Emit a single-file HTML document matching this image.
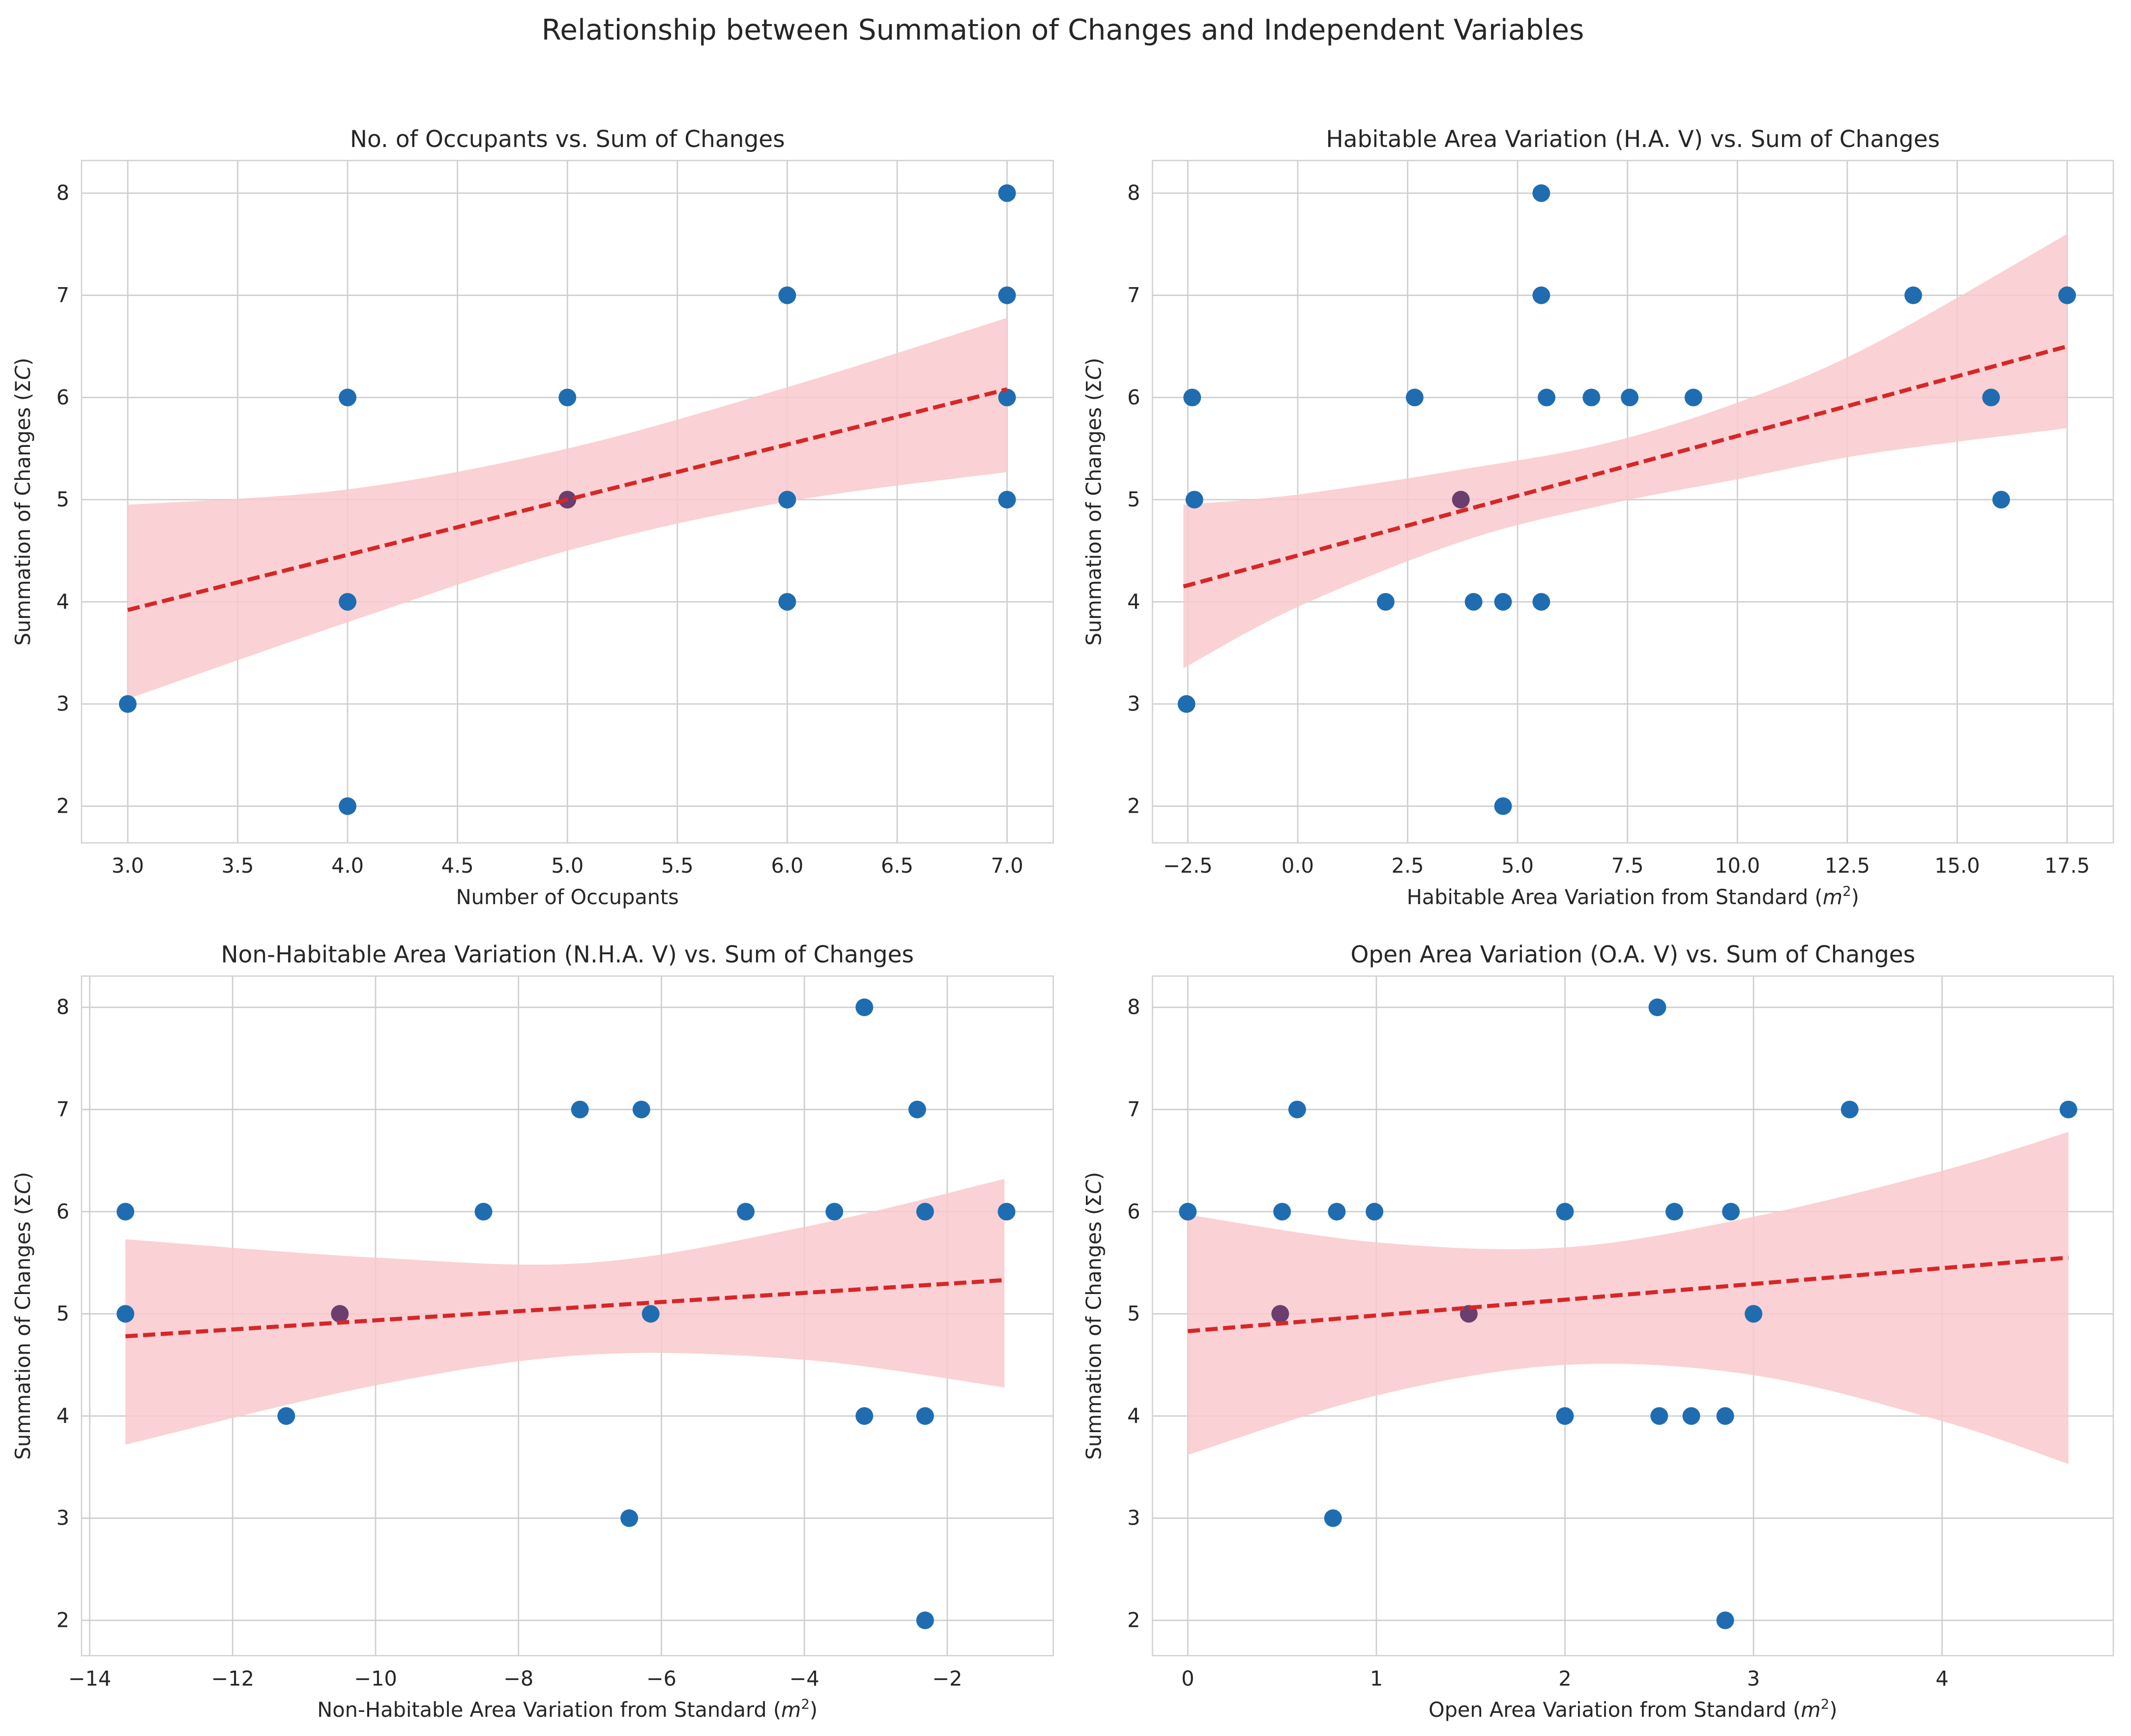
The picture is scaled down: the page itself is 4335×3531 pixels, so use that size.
<!DOCTYPE html>
<html><head><meta charset="utf-8">
<style>
html,body{margin:0;padding:0;background:#fff;}
svg{display:block;}
text{font-family:"DejaVu Sans","Liberation Sans",sans-serif;fill:#262626;}
</style></head>
<body>
<svg id="fig" width="4335" height="3531" viewBox="0 0 1568 1277" xmlns="http://www.w3.org/2000/svg">
<rect width="1568" height="1277" fill="#fff"/>
<text x="782" y="29" font-size="21" text-anchor="middle">Relationship between Summation of Changes and Independent Variables</text>
</svg>
<script>
// ---- data ----
const p1X=[3,4,4,4,5,6,6,6,7,7,7,7];
const p1Y=[3,6,4,2,6,7,5,4,8,7,6,5];
const p1PX=[5];const p1PY=[5];
const p1Line=[[3,3.92],[7,6.08]];
const p1BandX=[3,4,5,6,7];
const p1BandLo=[3.05,3.8,4.5,4.98,5.27];
const p1BandHi=[4.95,5.1,5.5,6.1,6.78];

const p2X=[-2.53,-2.4,-2.35,2.0,2.66,4.0,4.67,4.67,5.54,5.54,5.54,5.66,6.68,7.55,9.0,14.0,15.77,16.0,17.5];
const p2Y=[3,6,5,4,6,4,4,2,8,7,4,6,6,6,6,7,6,5,7];
const p2PX=[3.71];const p2PY=[5];
const p2Line=[[-2.6,4.15],[17.5,6.5]];
const p2BandX=[-2.6,0,3.8,7,10,13,17.5];
const p2BandLo=[3.35,3.95,4.6,4.95,5.2,5.45,5.7];
const p2BandHi=[4.95,5.05,5.3,5.55,5.95,6.5,7.6];

const p3X=[-13.5,-13.5,-11.25,-8.49,-7.14,-6.45,-6.28,-6.15,-4.82,-3.58,-3.16,-3.16,-2.42,-2.31,-2.31,-2.31,-1.17];
const p3Y=[6,5,4,6,7,3,7,5,6,6,8,4,7,6,4,2,6];
const p3PX=[-10.5];const p3PY=[5];
const p3Line=[[-13.5,4.78],[-1.2,5.33]];
const p3BandX=[-13.5,-10,-7,-4,-1.2];
const p3BandLo=[3.72,4.3,4.6,4.55,4.28];
const p3BandHi=[5.73,5.55,5.5,5.85,6.32];

const p4X=[0,0.5,0.58,0.79,0.77,0.99,2.0,2.0,2.49,2.5,2.58,2.67,2.85,2.85,2.88,3.0,3.51,4.67];
const p4Y=[6,6,7,6,3,6,6,4,8,4,6,4,4,2,6,5,7,7];
const p4PX=[0.49,1.49];const p4PY=[5,5];
const p4Line=[[0,4.83],[4.67,5.55]];
const p4BandX=[0,1,2,3,4,4.67];
const p4BandLo=[3.62,4.2,4.5,4.4,3.95,3.53];
const p4BandHi=[5.97,5.7,5.65,5.95,6.4,6.78];

const xTicks1=[3.0,3.5,4.0,4.5,5.0,5.5,6.0,6.5,7.0];
const xTickLabels1=["3.0","3.5","4.0","4.5","5.0","5.5","6.0","6.5","7.0"];
const xTicks2=[-2.5,0,2.5,5,7.5,10,12.5,15,17.5];
const xTickLabels2=["\u22122.5","0.0","2.5","5.0","7.5","10.0","12.5","15.0","17.5"];
const xTicks3=[-14,-12,-10,-8,-6,-4,-2];
const xTickLabels3=["\u221214","\u221212","\u221210","\u22128","\u22126","\u22124","\u22122"];
const xTicks4=[0,1,2,3,4];
const xTickLabels4=["0","1","2","3","4"];
const yTicks=[2,3,4,5,6,7,8];
const yTickLabels=["2","3","4","5","6","7","8"];

const NS="http://www.w3.org/2000/svg";
const svg=document.getElementById('fig');
function mk(tag,attrs,parent){const e=document.createElementNS(NS,tag);for(const k in attrs)e.setAttribute(k,attrs[k]);(parent||svg).appendChild(e);return e;}

function smooth(pts,start){
  let d=(start?'M':'L')+pts[0][0]+','+pts[0][1];
  for(let i=0;i<pts.length-1;i++){
    const p0=pts[i-1]||pts[i],p1=pts[i],p2=pts[i+1],p3=pts[i+2]||p2;
    const c1x=p1[0]+(p2[0]-p0[0])/6,c1y=p1[1]+(p2[1]-p0[1])/6;
    const c2x=p2[0]-(p3[0]-p1[0])/6,c2y=p2[1]-(p3[1]-p1[1])/6;
    d+='C'+c1x+','+c1y+' '+c2x+','+c2y+' '+p2[0]+','+p2[1];
  }
  return d;
}

function panel(cfg){
  const g=mk('g',{});
  
  
  const sx=v=>cfg.px0+(v-cfg.x0)*(cfg.px1-cfg.px0)/(cfg.x1-cfg.x0);
  const sy=v=>cfg.py2+(v-2)*(cfg.py8-cfg.py2)/6;
  const r=mk('rect',{x:cfg.L,y:cfg.T,width:cfg.R-cfg.L,height:cfg.B-cfg.T,fill:'#fff',stroke:'#d4d4d4','stroke-width':1},g);
  
  
  cfg.xt.forEach((v,i)=>{
    const l=mk('line',{x1:sx(v),x2:sx(v),y1:cfg.T,y2:cfg.B,stroke:'#cfcfcf','stroke-width':1},g);
    
    
    const t=mk('text',{x:sx(v),y:cfg.B+22,'font-size':15,'text-anchor':'middle'},g);
    
    
    t.textContent=cfg.xl[i];
  });
  yTicks.forEach((v,i)=>{
    const l=mk('line',{x1:cfg.L,x2:cfg.R,y1:sy(v),y2:sy(v),stroke:'#cfcfcf','stroke-width':1},g);
    
    
    const t=mk('text',{x:cfg.L-9,y:sy(v)+5,'font-size':15,'text-anchor':'end'},g);
    
    
    t.textContent=yTickLabels[i];
  });
  const hi=cfg.bx.map((v,i)=>[sx(v),sy(cfg.bh[i])]);
  const lo=cfg.bx.map((v,i)=>[sx(v),sy(cfg.bl[i])]).reverse();
  const band=mk('path',{d:smooth(hi,true)+smooth(lo,false)+'Z',fill:'#f9c9cc','fill-opacity':0.85},g);
  
  
  cfg.X.forEach((v,i)=>{
    const c=mk('circle',{cx:sx(v),cy:sy(cfg.Y[i]),r:6.5,fill:'#1f6db0'},g);
    
    
  });
  cfg.PX.forEach((v,i)=>{
    const c=mk('circle',{cx:sx(v),cy:sy(cfg.PY[i]),r:6.5,fill:'#6a3e6e'},g);
    
    
  });
  const ln=mk('line',{x1:sx(cfg.line[0][0]),y1:sy(cfg.line[0][1]),x2:sx(cfg.line[1][0]),y2:sy(cfg.line[1][1]),stroke:'#d62728','stroke-width':3,'stroke-dasharray':'9,4'},g);
  
  
  const tt=mk('text',{x:(cfg.L+cfg.R)/2,y:cfg.T-10,'font-size':17,'text-anchor':'middle'},g);
  
  
  tt.textContent=cfg.title;
  const xa=mk('text',{x:(cfg.L+cfg.R)/2,y:cfg.B+45,'font-size':15,'text-anchor':'middle'},g);
  
  
  xa.innerHTML=cfg.xlabel;
  const cy=(cfg.T+cfg.B)/2, cx=cfg.L-38;
  const ya=mk('text',{x:cx,y:cy,'font-size':15,'text-anchor':'middle',transform:'rotate(-90 '+cx+' '+cy+')'},g);
  
  
  ya.innerHTML='Summation of Changes (\u03A3<tspan font-style="italic">C</tspan>)';
}
const m2='(<tspan font-style="italic">m</tspan><tspan font-size="10" dy="-6">2</tspan><tspan dy="6">)</tspan>';
panel({name:'occupants-panel',L:60,R:775,T:118,B:620,px0:94,px1:741,x0:3,x1:7,py2:593,py8:142,xt:xTicks1,xl:xTickLabels1,X:p1X,Y:p1Y,PX:p1PX,PY:p1PY,line:p1Line,bx:p1BandX,bl:p1BandLo,bh:p1BandHi,title:'No. of Occupants vs. Sum of Changes',xlabel:'Number of Occupants'});
panel({name:'habitable-area-panel',L:848,R:1555,T:118,B:620,px0:874,px1:1521,x0:-2.5,x1:17.5,py2:593,py8:142,xt:xTicks2,xl:xTickLabels2,X:p2X,Y:p2Y,PX:p2PX,PY:p2PY,line:p2Line,bx:p2BandX,bl:p2BandLo,bh:p2BandHi,title:'Habitable Area Variation (H.A. V) vs. Sum of Changes',xlabel:'Habitable Area Variation from Standard '+m2});
panel({name:'non-habitable-area-panel',L:60,R:775,T:718,B:1218,px0:66,px1:697,x0:-14,x1:-2,py2:1192,py8:741,xt:xTicks3,xl:xTickLabels3,X:p3X,Y:p3Y,PX:p3PX,PY:p3PY,line:p3Line,bx:p3BandX,bl:p3BandLo,bh:p3BandHi,title:'Non-Habitable Area Variation (N.H.A. V) vs. Sum of Changes',xlabel:'Non-Habitable Area Variation from Standard '+m2});
panel({name:'open-area-panel',L:848,R:1555,T:718,B:1218,px0:874,px1:1429,x0:0,x1:4,py2:1192,py8:741,xt:xTicks4,xl:xTickLabels4,X:p4X,Y:p4Y,PX:p4PX,PY:p4PY,line:p4Line,bx:p4BandX,bl:p4BandLo,bh:p4BandHi,title:'Open Area Variation (O.A. V) vs. Sum of Changes',xlabel:'Open Area Variation from Standard '+m2});
</script>
</body></html>
